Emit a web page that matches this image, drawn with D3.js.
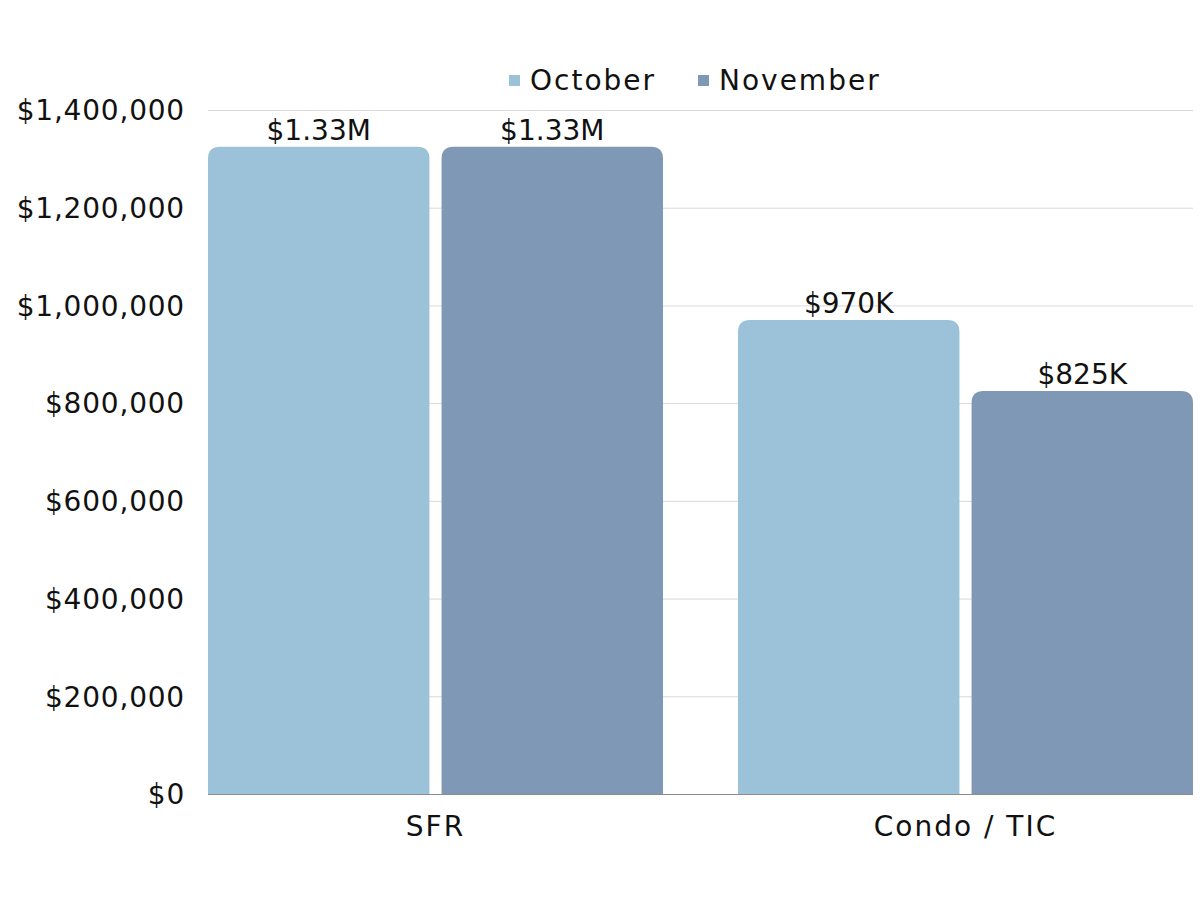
<!DOCTYPE html>
<html><head><meta charset="utf-8">
<script src="https://cdn.jsdelivr.net/npm/d3@7/dist/d3.min.js"></script>
<style>body{margin:0;background:#fff}svg{display:block}text{font-family:"DejaVu Sans",sans-serif;fill:#111}</style>
</head><body><svg id="c" width="1200" height="900"></svg>
<script>
const categories = ["SFR", "Condo / TIC"];
const seriesNames = ["October", "November"];
const october = [1325000, 970000];
const november = [1325000, 825000];
const valueLabels = [["$1.33M", "$1.33M"], ["$970K", "$825K"]];
const yTicks = [0, 200000, 400000, 600000, 800000, 1000000, 1200000, 1400000];
const colors = ["#9BC2D8", "#7F98B5"];

const svg = d3.select("#c");
const m = {l: 208, r: 1193, t: 110, b: 794};
const y = d3.scaleLinear().domain([0, 1400000]).range([m.b, m.t]);
const x0 = d3.scaleBand().domain(categories).range([m.l, m.r]).paddingInner(0.1415).paddingOuter(0);
const x1 = d3.scaleBand().domain(seriesNames).range([0, x0.bandwidth()]).paddingInner(0.052).paddingOuter(0);
const fmt = d3.format("$,");
const FS = 28;

// grid
const yAxis = d3.axisLeft(y).tickValues(yTicks).tickSize(-(m.r - m.l)).tickFormat(d => fmt(d)).tickPadding(23);
const gy = svg.append("g").attr("transform", `translate(${m.l},0)`).call(yAxis);
gy.select(".domain").remove();
gy.selectAll(".tick line").attr("stroke", "#d9d9d9").attr("stroke-width", 1);
gy.selectAll(".tick text").attr("font-size", FS).attr("fill", "#111").attr("font-family", "DejaVu Sans").attr("dy", "0.35em").attr("letter-spacing", 0.8);

const data = categories.map((c, i) => ({cat: c, vals: [october[i], november[i]], labels: valueLabels[i]}));
const r = 12;
function barPath(x, w, yTop, yBot) {
  return `M${x},${yBot} V${yTop + r} Q${x},${yTop} ${x + r},${yTop} H${x + w - r} Q${x + w},${yTop} ${x + w},${yTop + r} V${yBot} Z`;
}
const groups = svg.append("g").selectAll("g").data(data).join("g").attr("transform", d => `translate(${x0(d.cat)},0)`);
groups.selectAll("path").data(d => d.vals.map((v, j) => ({s: seriesNames[j], v, j})))
  .join("path")
  .attr("d", d => barPath(x1(d.s), x1.bandwidth(), y(d.v), y(0)))
  .attr("fill", d => colors[d.j]);
groups.selectAll("text.vl").data(d => d.vals.map((v, j) => ({s: seriesNames[j], v, j, lab: d.labels[j]})))
  .join("text").attr("class", "vl")
  .attr("x", d => x1(d.s) + x1.bandwidth() / 2)
  .attr("y", d => y(d.v) - 7)
  .attr("text-anchor", "middle").attr("font-size", FS).text(d => d.lab);

// x axis
const xAxis = d3.axisBottom(x0).tickSize(0).tickPadding(22);
const gx = svg.append("g").attr("transform", `translate(0,${m.b})`).call(xAxis);
gx.select(".domain").attr("stroke", "#8c8c8c").attr("d", `M${m.l},0.5H${m.r}`);
gx.selectAll(".tick text").attr("font-size", FS).attr("fill", "#111").attr("font-family", "DejaVu Sans").attr("letter-spacing", 2);

// legend
const legX = [509, 698];
const leg = svg.append("g").selectAll("g").data(seriesNames).join("g").attr("transform", (d, i) => `translate(${legX[i]},80)`);
leg.append("rect").attr("x", 0).attr("y", -5).attr("width", 11).attr("height", 11).attr("fill", (d, i) => colors[i]);
leg.append("text").attr("x", 21).attr("y", 0).attr("dy", "0.35em").attr("font-size", FS).attr("letter-spacing", 2).text(d => d);
</script></body></html>
